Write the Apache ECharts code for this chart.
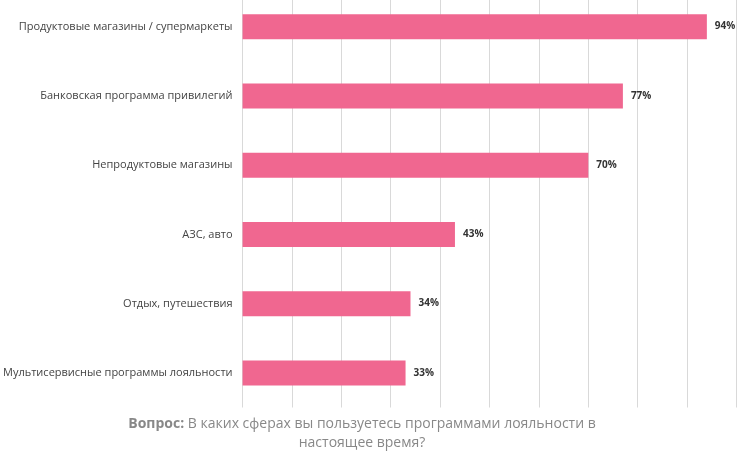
<!DOCTYPE html>
<html><head><meta charset="utf-8">
<script src="https://cdn.jsdelivr.net/npm/echarts@6/dist/echarts.min.js"></script>
<style>html,body{margin:0;padding:0;background:#fff;overflow:hidden}#main{width:750px;height:469px;margin-top:-8px}</style>
</head><body><div id="main"></div>
<script>
var categories = ['Продуктовые магазины / супермаркеты', 'Банковская программа привилегий', 'Непродуктовые магазины', 'АЗС, авто', 'Отдых, путешествия', 'Мультисервисные программы лояльности'];
var values = [94, 77, 70, 43, 34, 33];

var chart = echarts.init(document.getElementById('main'));
chart.setOption({
    animation: false,
    textStyle: {fontFamily: 'Open Sans'},
    grid: {left: 241.5, right: 13.5, top: 0, bottom: 53.5, containLabel: false},
    xAxis: {
        type: 'value', min: 0, max: 100, interval: 10,
        axisLabel: {show: false}, axisLine: {show: false}, axisTick: {show: false},
        splitLine: {lineStyle: {color: '#d9d9d9', width: 1}}
    },
    yAxis: {
        type: 'category', inverse: true, data: categories,
        axisLine: {show: false}, axisTick: {show: false},
        axisLabel: {color: '#444', fontSize: 11, margin: 10}
    },
    series: [{
        type: 'bar', data: values, barWidth: 25,
        itemStyle: {color: '#f06790'},
        label: {show: true, position: 'right', distance: 8, formatter: '{c}%', color: '#333', fontWeight: 'bold', fontSize: 10}
    }],
    graphic: [{
        type: 'text', x: 362, y: 423,
        style: {
            text: '{b|Вопрос:} В каких сферах вы пользуетесь программами лояльности в\nнастоящее время?',
            align: 'center', verticalAlign: 'top', fill: '#888', font: '14px "Open Sans"', lineHeight: 19,
            rich: {b: {fontWeight: 'bold', fill: '#888', fontSize: 14, fontFamily: 'Open Sans'}}
        }
    }]
});
</script></body></html>
